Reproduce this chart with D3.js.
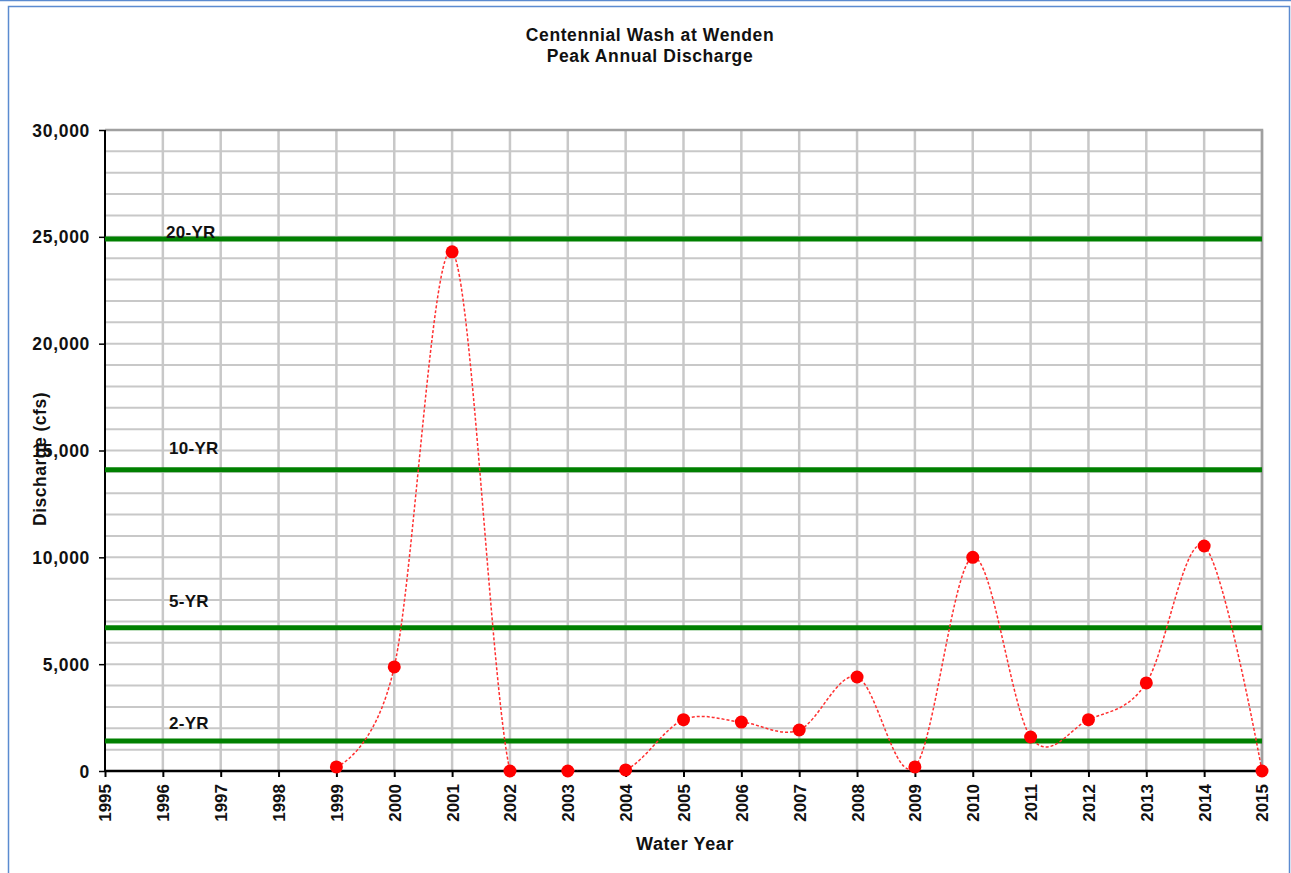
<!DOCTYPE html>
<html><head><meta charset="utf-8">
<script src="https://cdn.jsdelivr.net/npm/d3@7"></script>
<style>body{margin:0;background:#fff}svg{display:block;font-family:Arial,"Liberation Sans",sans-serif}</style>
</head><body>
<svg id="c" width="1291" height="873"></svg>
<script>
const years = [1999,2000,2001,2002,2003,2004,2005,2006,2007,2008,2009,2010,2011,2012,2013,2014,2015];
const discharge = [190,4870,24300,0,0,50,2400,2290,1920,4400,190,10000,1590,2400,4120,10530,0];
const returnLabels = ["20-YR","10-YR","5-YR","2-YR"];
const returnValues = [24900,14100,6700,1400];
const xTicks = d3.range(1995,2016);
const yTicks = [0,5000,10000,15000,20000,25000,30000];

const svg = d3.select("#c");
const L=105, R=1262, T=130, B=771;
const x = d3.scaleLinear().domain([1995,2015]).range([L,R]);
const y = d3.scaleLinear().domain([0,30000]).range([B,T]);

// frame
svg.append("line").attr("x1",0).attr("x2",1291).attr("y1",0.5).attr("y2",0.5).attr("stroke","#5b8bd0").attr("stroke-width",1.5);
svg.append("rect").attr("x",8.5).attr("y",6.5).attr("width",1281).attr("height",900).attr("fill","none").attr("stroke","#5b8bd0").attr("stroke-width",1.5);

// title
svg.append("text").attr("x",650).attr("y",41).attr("text-anchor","middle").attr("font-weight","bold").attr("font-size",17.5).attr("letter-spacing",0.6).attr("fill","#111").text("Centennial Wash at Wenden");
svg.append("text").attr("x",650).attr("y",62).attr("text-anchor","middle").attr("font-weight","bold").attr("font-size",17.5).attr("letter-spacing",0.6).attr("fill","#111").text("Peak Annual Discharge");

// grid
const g = svg.append("g");
g.selectAll(".hg").data(d3.range(1000,30001,1000)).join("line")
  .attr("x1",L).attr("x2",R).attr("y1",d=>y(d)).attr("y2",d=>y(d))
  .attr("stroke","#c8c8c8").attr("stroke-width",2);
g.selectAll(".vg").data(xTicks.slice(1)).join("line")
  .attr("x1",d=>x(d)).attr("x2",d=>x(d)).attr("y1",T).attr("y2",B)
  .attr("stroke","#c8c8c8").attr("stroke-width",2.5);
// top/right border
svg.append("path").attr("d",`M${L},${T}H${R}V${B}`).attr("fill","none").attr("stroke","#a0a0a0").attr("stroke-width",2.5);

// axes
const yAxis = d3.axisLeft(y).tickValues(yTicks).tickSize(6).tickFormat(d3.format(","));
const ya = svg.append("g").attr("transform",`translate(${L},0)`).call(yAxis);
ya.select(".domain").attr("stroke","#000").attr("stroke-width",2).attr("d",`M-0,${T}V${B}`);
ya.selectAll(".tick line").attr("stroke","#000").attr("stroke-width",1.5);
ya.selectAll(".tick text").attr("font-size",17.5).attr("font-weight","bold").attr("fill","#111").attr("letter-spacing",0.7).attr("x",-15).attr("dy","0.35em").attr("font-family","Arial,'Liberation Sans',sans-serif");

const xAxis = d3.axisBottom(x).tickValues(xTicks).tickSize(6).tickFormat(d3.format("d"));
const xa = svg.append("g").attr("transform",`translate(0,${B})`).call(xAxis);
xa.select(".domain").attr("stroke","#000").attr("stroke-width",2.5).attr("d",`M${L},0H${R}`);
xa.selectAll(".tick line").attr("stroke","#000").attr("stroke-width",2);
xa.selectAll(".tick text").attr("font-size",17).attr("font-weight","bold").attr("fill","#111")
  .attr("transform","rotate(-90)").attr("text-anchor","end").attr("x",-13).attr("y",0).attr("dy","0.35em")
  .attr("font-family","Arial,'Liberation Sans',sans-serif");

// axis titles
svg.append("text").attr("x",685).attr("y",850).attr("text-anchor","middle").attr("font-weight","bold").attr("font-size",18).attr("letter-spacing",0.6).attr("fill","#111").text("Water Year");
svg.append("text").attr("transform","translate(46,459) rotate(-90)").attr("text-anchor","middle").attr("font-weight","bold").attr("font-size",17.5).attr("letter-spacing",0.5).attr("fill","#111").text("Discharge  (cfs)");

// return period lines
svg.selectAll(".rp").data(returnValues).join("line")
  .attr("x1",L).attr("x2",R).attr("y1",d=>y(d)).attr("y2",d=>y(d))
  .attr("stroke","#008000").attr("stroke-width",5);
svg.selectAll(".rpl").data(returnLabels).join("text")
  .attr("x",(d,i)=>i===0?166:169).attr("y",(d,i)=>y(returnValues[i])-(i===0?1:i===1?16:i===2?21:12))
  .attr("font-weight","bold").attr("font-size",17).attr("letter-spacing",0.3).attr("fill","#111").text(d=>d);

// data line
svg.append("clipPath").attr("id","clip").append("rect").attr("x",L).attr("y",T).attr("width",R-L).attr("height",B-T);
const pts = years.map((yr,i)=>[x(yr),y(discharge[i])]);
svg.append("path").attr("clip-path","url(#clip)")
  .attr("d",d3.line().curve(d3.curveCardinal.tension(0))(pts))
  .attr("fill","none").attr("stroke","#ff3030").attr("stroke-width",1.5).attr("stroke-dasharray","3,2");
svg.selectAll(".pt").data(pts).join("circle")
  .attr("cx",d=>d[0]).attr("cy",d=>d[1]).attr("r",6.5).attr("fill","#ff0000");
</script>
</body></html>
